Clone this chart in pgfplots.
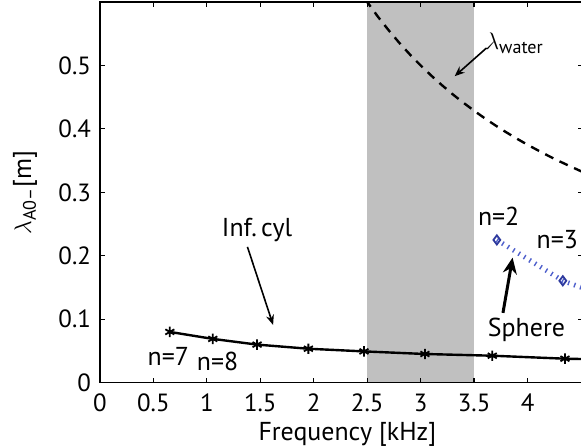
\documentclass[border=0pt]{standalone}
\usepackage{fontspec}
\setmainfont{PT Sans}
\usepackage{amsmath}
\usepackage{pgfplots}
\pgfplotsset{compat=1.18}
\usetikzlibrary{arrows.meta}
\definecolor{band}{HTML}{C0C0C0}
\definecolor{sph}{HTML}{2E3A9E}
\definecolor{sphl}{HTML}{4F60CC}
\begin{document}
\fontsize{13}{15}\selectfont
\begin{tikzpicture}
\begin{axis}[
  scale only axis, width=241.8bp, height=190.5bp,
  xmin=0, xmax=4.52, ymin=0, ymax=0.6,
  xtick={0,0.5,1,1.5,2,2.5,3,3.5,4},
  ytick={0,0.1,0.2,0.3,0.4,0.5},
  tick align=inside, major tick length=2.5bp,
  axis on top,
  axis line style={line width=0.75bp},
  every tick/.style={black, line width=0.6bp},
  tick label style={font=\fontsize{12.5}{14}\selectfont},
  xticklabel style={yshift=-1bp},
  label style={font=\fontsize{13}{15}\selectfont},
  /pgf/number format/assume math mode=true,
  xlabel={Frequency [kHz]},
  ylabel={$\lambda_{\text{A0--}}$[m]},
  every axis x label/.style={at={(axis description cs:0.512,0)}, anchor=center, yshift=-26bp},
  every axis y label/.style={at={(axis description cs:-0.155,0.5)}, anchor=center, rotate=90},
]
\addplot[fill=band, draw=none, forget plot] coordinates {(2.5,0.6) (3.5,0.6)} \closedcycle;

\addplot[black, line width=1.2bp, dash pattern=on 4.5bp off 3.5bp] coordinates {
(2.4,0.625) (2.5,0.6) (2.6,0.5769) (2.7,0.5556) (2.8,0.5357) (2.9,0.5172) (3.0,0.5)
(3.1,0.4839) (3.2,0.4688) (3.3,0.4545) (3.4,0.4412) (3.5,0.4286) (3.6,0.4167)
(3.7,0.4054) (3.8,0.3947) (3.9,0.3846) (4.0,0.375) (4.1,0.3659) (4.2,0.3571)
(4.3,0.3488) (4.4,0.3409) (4.5,0.3333) (4.6,0.3261)};

\addplot[black, line width=1.2bp, mark=asterisk, mark size=2.6bp, mark options={line width=0.9bp}] coordinates {
(0.654,0.080) (1.056,0.069) (1.47,0.060) (1.95,0.0535) (2.47,0.0493) (3.04,0.0452) (3.67,0.0425) (4.35,0.0378) (5.05,0.0355)};

\addplot[sphl, line width=2.4bp, dash pattern=on 0.7bp off 2.5bp, mark=diamond, mark size=2.3bp, mark options={solid, sph, line width=0.9bp, fill=white}] coordinates {
(3.713,0.225) (4.33,0.1606) (5.0,0.12)};

\node at (axis cs:3.88,0.535) {$\lambda_{\text{water}}$};
\draw[-{Stealth[length=5bp,width=4bp]}, line width=0.8bp] (axis cs:3.617,0.5276) -- (axis cs:3.318,0.483);
\node at (axis cs:1.47,0.241) {Inf.\,cyl};
\draw[-{Stealth[length=5bp,width=4bp]}, line width=0.8bp] (axis cs:1.38,0.214) -- (axis cs:1.62,0.091);
\node at (axis cs:0.64,0.041) {n=7};
\node at (axis cs:1.10,0.033) {n=8};
\node at (axis cs:3.99,0.083) {Sphere};
\draw[-{Stealth[length=8bp,width=7bp]}, line width=1.5bp] (axis cs:3.77,0.110) -- (axis cs:3.86,0.197);
\node at (axis cs:3.73,0.262) {n=2};
\node[anchor=east, inner sep=1bp] at (axis cs:4.495,0.225) {n=3};
\coordinate (R) at (axis cs:4.5,0.6);
\end{axis}
\pgfresetboundingbox
\path[use as bounding box] ([xshift=-50bp,yshift=-32.5bp]current axis.south west) rectangle ([yshift=1bp]R);
\end{tikzpicture}
\end{document}
